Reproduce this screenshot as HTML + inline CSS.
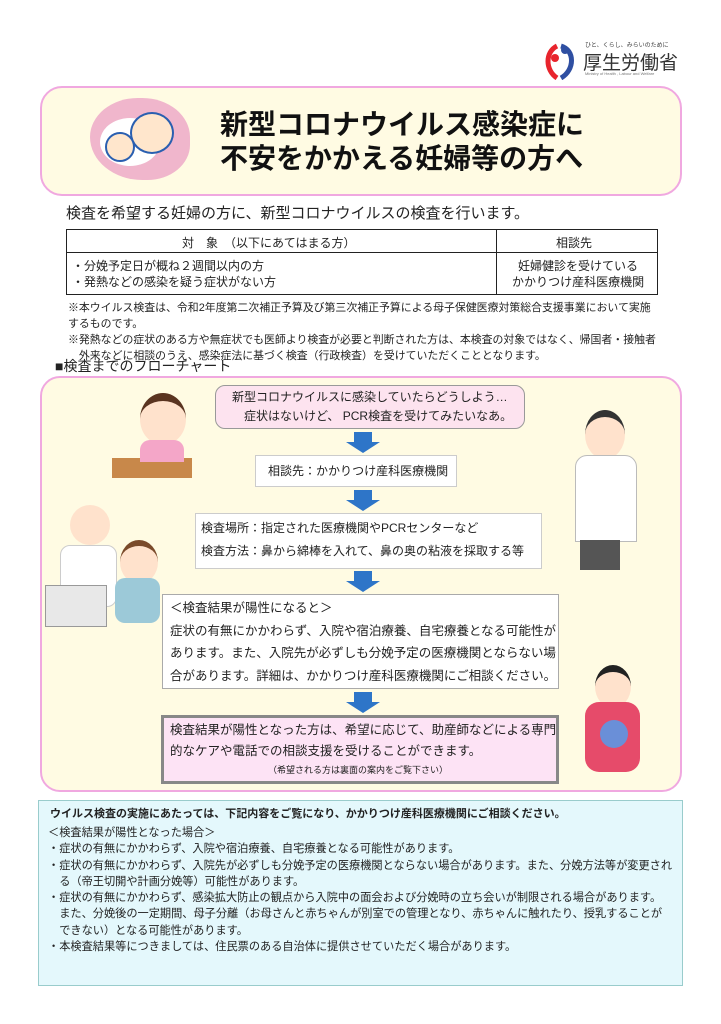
<!DOCTYPE html>
<html><head><meta charset="utf-8"><style>
body{margin:0;width:721px;height:1024px;background:#fff;position:relative;overflow:hidden;font-family:"Liberation Sans","Noto Sans CJK JP",sans-serif;color:#222}
.a{position:absolute}
.t{white-space:nowrap}
</style></head><body>
<div class="a" style="left:543px;top:40px;width:36px;height:40px">
<svg width="36" height="40"><path d="M14 6 C2 12 2 30 14 38" stroke="#e8242c" stroke-width="5" fill="none"/><path d="M18 6 C32 10 32 30 18 38" stroke="#2f4fa2" stroke-width="5" fill="none"/><circle cx="12" cy="18" r="4" fill="#e8242c"/><circle cx="22" cy="10" r="4" fill="#2f4fa2"/></svg></div>
<div class="a t" style="left:585px;top:40px;font-size:6px;color:#444">ひと、くらし、みらいのために</div>
<div class="a t" style="left:583px;top:48px;font-size:19px;color:#333">厚生労働省</div>
<div class="a t" style="left:585px;top:71px;font-size:4px;color:#777">Ministry of Health , Labour and Welfare</div>
<div class="a" style="left:40px;top:86px;width:638px;height:106px;border:2px solid #f0a8e0;border-radius:22px;background:#fffbe3"></div>
<div class="a" style="left:90px;top:98px;width:100px;height:82px;border-radius:50% 50% 45% 55%;background:#f0b6cc"></div>
<div class="a" style="left:100px;top:118px;width:60px;height:48px;border-radius:50%;background:#fff"></div>
<div class="a" style="left:130px;top:112px;width:40px;height:38px;border-radius:50%;background:#ffe6cc;border:2px solid #2a5fb0"></div>
<div class="a" style="left:105px;top:132px;width:26px;height:26px;border-radius:50%;background:#ffe6cc;border:2px solid #2a5fb0"></div>
<div class="a t" style="left:220px;top:108px;font-size:28px;font-weight:bold;line-height:34px;color:#111">新型コロナウイルス感染症に<br>不安をかかえる妊婦等の方へ</div>
<div class="a t" style="left:66px;top:202px;font-size:15px">検査を希望する妊婦の方に、新型コロナウイルスの検査を行います。</div>
<div class="a" style="left:66px;top:229px;width:590px;height:64px;border:1.5px solid #222"></div>
<div class="a" style="left:66px;top:252px;width:591px;border-top:1px solid #222"></div>
<div class="a" style="left:496px;top:229px;height:65px;border-left:1px solid #222"></div>
<div class="a t" style="left:182px;top:234px;font-size:12px">対　象　（以下にあてはまる方）</div>
<div class="a t" style="left:556px;top:234px;font-size:12px">相談先</div>
<div class="a t" style="left:72px;top:258px;font-size:12px;line-height:16px">・分娩予定日が概ね２週間以内の方<br>・発熱などの感染を疑う症状がない方</div>
<div class="a t" style="left:512px;top:258px;font-size:12px;line-height:16px;text-align:center">妊婦健診を受けている<br>かかりつけ産科医療機関</div>
<div class="a t" style="left:68px;top:300px;font-size:10.9px;line-height:16px">※本ウイルス検査は、令和2年度第二次補正予算及び第三次補正予算による母子保健医療対策総合支援事業において実施<br>するものです。<br>※発熱などの症状のある方や無症状でも医師より検査が必要と判断された方は、本検査の対象ではなく、帰国者・接触者<br>　外来などに相談のうえ、感染症法に基づく検査（行政検査）を受けていただくこととなります。</div>
<div class="a t" style="left:55px;top:356px;font-size:14px">■検査までのフローチャート</div>
<div class="a" style="left:40px;top:376px;width:638px;height:412px;border:2px solid #f0a8e0;border-radius:20px;background:#fffbe3"></div>
<div class="a" style="left:112px;top:458px;width:80px;height:20px;background:#c8884a"></div>
<div class="a" style="left:140px;top:393px;width:46px;height:44px;border-radius:50%;background:#ffe2cc;border-top:8px solid #5a3420"></div>
<div class="a" style="left:140px;top:440px;width:44px;height:22px;border-radius:10px 10px 0 0;background:#f4a6c8"></div>
<div class="a" style="left:585px;top:410px;width:40px;height:42px;border-radius:50%;background:#ffe2cc;border-top:7px solid #333"></div>
<div class="a" style="left:575px;top:455px;width:60px;height:85px;border-radius:12px 12px 0 0;background:#fff;border:1px solid #bbb"></div>
<div class="a" style="left:580px;top:540px;width:40px;height:30px;background:#555"></div>
<div class="a" style="left:70px;top:505px;width:40px;height:40px;border-radius:50%;background:#ffe2cc"></div>
<div class="a" style="left:60px;top:545px;width:55px;height:60px;border-radius:10px;background:#fff;border:1px solid #ccc"></div>
<div class="a" style="left:45px;top:585px;width:60px;height:40px;background:#e8e8e8;border:1px solid #999"></div>
<div class="a" style="left:120px;top:540px;width:38px;height:38px;border-radius:50%;background:#ffe2cc;border-top:6px solid #7a4a2a"></div>
<div class="a" style="left:115px;top:578px;width:45px;height:45px;border-radius:10px;background:#9cc9d8"></div>
<div class="a" style="left:595px;top:665px;width:36px;height:36px;border-radius:50%;background:#ffe2cc;border-top:7px solid #222"></div>
<div class="a" style="left:585px;top:702px;width:55px;height:70px;border-radius:14px;background:#e64b6a"></div>
<div class="a" style="left:600px;top:720px;width:28px;height:28px;border-radius:50%;background:#6a8fd8"></div>
<div class="a" style="left:215px;top:385px;width:308px;height:42px;border:1px solid #999;border-radius:10px;background:#fde3ef"></div>
<div class="a t" style="left:232px;top:388px;font-size:12px;line-height:19px">新型コロナウイルスに感染していたらどうしよう…<br>　症状はないけど、 PCR検査を受けてみたいなあ。</div>
<svg class="a" style="left:0;top:0" width="721" height="1024">
<g fill="#2e75c8">
<path d="M354 432h18v10h8l-17 11-17-11h8z"/>
<path d="M354 490h18v10h8l-17 11-17-11h8z"/>
<path d="M354 571h18v10h8l-17 11-17-11h8z"/>
<path d="M354 692h18v10h8l-17 11-17-11h8z"/>
</g></svg>
<div class="a" style="left:255px;top:455px;width:200px;height:30px;background:#fff;border:1px solid #ccc"></div>
<div class="a t" style="left:268px;top:462px;font-size:12px">相談先：かかりつけ産科医療機関</div>
<div class="a" style="left:195px;top:513px;width:345px;height:54px;background:#fff;border:1px solid #ccc"></div>
<div class="a t" style="left:201px;top:517px;font-size:12px;line-height:23px">検査場所：指定された医療機関やPCRセンターなど<br>検査方法：鼻から綿棒を入れて、鼻の奥の粘液を採取する等</div>
<div class="a" style="left:162px;top:594px;width:395px;height:93px;background:#fff;border:1px solid #aaa"></div>
<div class="a t" style="left:170px;top:597px;font-size:12.5px;line-height:22.5px">＜検査結果が陽性になると＞<br>症状の有無にかかわらず、入院や宿泊療養、自宅療養となる可能性が<br>あります。また、入院先が必ずしも分娩予定の医療機関とならない場<br>合があります。詳細は、かかりつけ産科医療機関にご相談ください。</div>
<div class="a" style="left:161px;top:715px;width:392px;height:63px;background:#fde3f5;border:3px solid #888"></div>
<div class="a t" style="left:170px;top:720px;font-size:12.5px;line-height:21px">検査結果が陽性となった方は、希望に応じて、助産師などによる専門<br>的なケアや電話での相談支援を受けることができます。</div>
<div class="a t" style="left:268px;top:763px;font-size:9px">（希望される方は裏面の案内をご覧下さい）</div>
<div class="a" style="left:38px;top:800px;width:643px;height:184px;background:#e4f8fc;border:1px solid #9cc"></div>
<div class="a t" style="left:50px;top:805px;font-size:11px;font-weight:bold">ウイルス検査の実施にあたっては、下記内容をご覧になり、かかりつけ産科医療機関にご相談ください。</div>
<div class="a t" style="left:48px;top:825px;font-size:11.2px;line-height:16.3px">＜検査結果が陽性となった場合＞<br>・症状の有無にかかわらず、入院や宿泊療養、自宅療養となる可能性があります。<br>・症状の有無にかかわらず、入院先が必ずしも分娩予定の医療機関とならない場合があります。また、分娩方法等が変更され<br>　る（帝王切開や計画分娩等）可能性があります。<br>・症状の有無にかかわらず、感染拡大防止の観点から入院中の面会および分娩時の立ち会いが制限される場合があります。<br>　また、分娩後の一定期間、母子分離（お母さんと赤ちゃんが別室での管理となり、赤ちゃんに触れたり、授乳することが<br>　できない）となる可能性があります。<br>・本検査結果等につきましては、住民票のある自治体に提供させていただく場合があります。</div>
</body></html>
